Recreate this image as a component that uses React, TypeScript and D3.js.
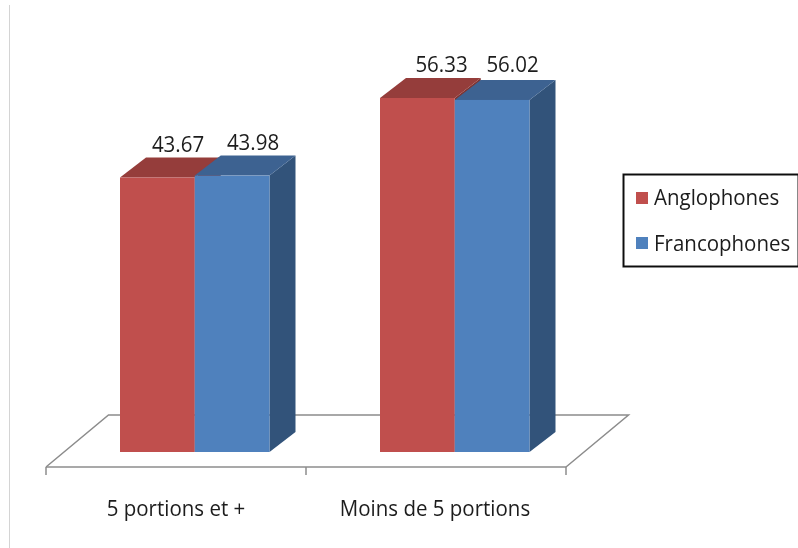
import React from "react";
import * as d3 from "d3";

const categories = ["5 portions et +", "Moins de 5 portions"];
const seriesNames = ["Anglophones", "Francophones"];
const anglophones = [43.67, 56.33];
const francophones = [43.98, 56.02];
const valueLabels = [["43.67", "56.33"], ["43.98", "56.02"]];
const frontColors = ["#C0504D", "#4F81BD"];
const topColors = ["#953C3A", "#3D6291"];
const sideColors = ["#7E3432", "#30527A"];

const W = 798, H = 548;
const FONT = "'Open Sans', 'Noto Sans', sans-serif";
const x = d3.scaleBand<string>().domain(categories).range([46, 566]);
const y = d3.scaleLinear().domain([0, 56.33]).range([452, 98]);
const inner = d3.scaleBand<string>().domain(seriesNames).range([74, 223.5]);
const DX = 26, DY = -20;
const floorDX = 62.5, floorDY = -52;
const line = d3.line();
const poly = (p: [number, number][]) => line(p)! + "Z";

function Label(props: { x: number; y: number; anchor?: string; children: React.ReactNode }) {
  return (
    <text
      transform={`translate(${props.x},${props.y}) scale(1,1.1)`}
      textAnchor={props.anchor ?? "middle"}
      fontSize={20.5}
      fill="#1c1c1c"
    >
      {props.children}
    </text>
  );
}

export default function App() {
  const series = [anglophones, francophones];
  const floorY = 467;
  const bars: React.ReactNode[] = [];
  categories.forEach((c, ci) => {
    series.forEach((vals, si) => {
      const x0 = x(c)! + inner(seriesNames[si])!;
      const w = inner.bandwidth();
      const x1 = x0 + w;
      const yt = y(vals[ci]);
      const yb = y(0);
      bars.push(
        <g key={c + si}>
          <path d={poly([[x1, yt], [x1 + DX, yt + DY], [x1 + DX, yb + DY], [x1, yb]])} fill={sideColors[si]} />
          <path d={poly([[x0, yt], [x0 + DX, yt + DY], [x1 + DX, yt + DY], [x1, yt]])} fill={topColors[si]} />
          <rect x={x0} y={yt} width={w} height={yb - yt} fill={frontColors[si]} />
        </g>
      );
    });
  });
  const labelX = [[178, 253], [441.5, 512.5]];
  const labelDY = [[-25.6, -25.4], [-26, -28]];
  const ticks = [46, x(categories[1])!, 566];
  return (
    <svg width={W} height={H} style={{ position: "absolute", left: 0, top: 0, background: "#fff" }} fontFamily={FONT}>
      <defs>
        <filter id="soft" x="-5%" y="-5%" width="110%" height="110%">
          <feGaussianBlur stdDeviation="0.45" />
        </filter>
      </defs>
      <g filter="url(#soft)">
        <line x1={9.5} x2={9.5} y1={5} y2={H} stroke="#d4d4d4" strokeWidth={1} />
        <path
          d={line([[46, floorY], [46 + floorDX, floorY + floorDY], [566 + floorDX, floorY + floorDY], [566, floorY]])!}
          fill="none" stroke="#8c8c8c" strokeWidth={1.5}
        />
        <line x1={46} x2={566} y1={floorY} y2={floorY} stroke="#8c8c8c" strokeWidth={1.5} />
        {ticks.map(t => (
          <line key={t} x1={t} x2={t} y1={floorY} y2={floorY + 8} stroke="#8c8c8c" strokeWidth={1.5} />
        ))}
        {bars}
        {categories.map((c, ci) =>
          series.map((vals, si) => (
            <Label key={c + si} x={labelX[ci][si]} y={y(vals[ci]) + labelDY[ci][si]}>
              {valueLabels[si][ci]}
            </Label>
          ))
        )}
        {categories.map(c => (
          <Label key={c} x={x(c)! + x.bandwidth() / 2 - (c === categories[0] ? 0 : 1)} y={516}>
            {c}
          </Label>
        ))}
        <rect x={623.5} y={174.5} width={175} height={92} fill="#fff" stroke="#111" strokeWidth={2} />
        {seriesNames.map((s, i) => (
          <g key={s}>
            <rect x={636} y={192 + i * 45} width={12} height={12} fill={frontColors[i]} />
            <Label x={654} y={205 + i * 46} anchor="start">{s}</Label>
          </g>
        ))}
      </g>
    </svg>
  );
}
